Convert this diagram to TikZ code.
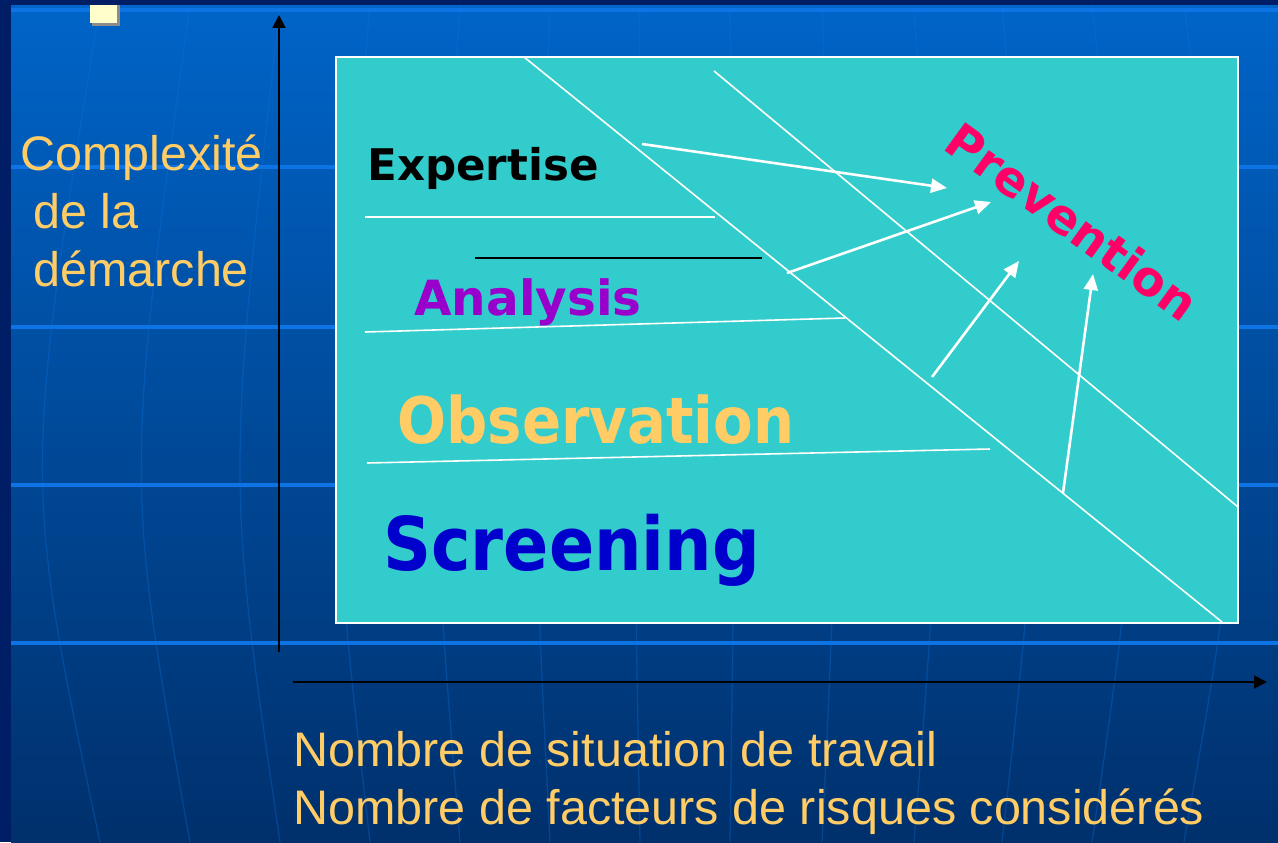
\documentclass[tikz,border=0pt]{standalone}
\usepackage{fontspec}
\setmainfont{Liberation Sans}
\newfontfamily\widebold{DejaVu Sans Bold}
\newfontfamily\narrowbold[FakeStretch=0.9]{DejaVu Sans Bold}
\usetikzlibrary{arrows.meta}
\definecolor{frame}{HTML}{001E66}
\definecolor{bgtop}{HTML}{0064C8}
\definecolor{bgbot}{HTML}{00306C}
\definecolor{gridline}{HTML}{0C74E4}
\definecolor{panel}{HTML}{33CCCC}
\definecolor{axislab}{HTML}{FFCC66}
\definecolor{analysis}{HTML}{9900CC}
\definecolor{screening}{HTML}{0000CC}
\definecolor{prevention}{HTML}{FF0066}
\definecolor{bullet}{HTML}{FFFFCC}

\begin{document}
\begin{tikzpicture}[x=0.02cm,y=-0.02cm,
    lw/.style={line width=#1*0.5669pt},
    axislabel/.style={inner sep=0pt,anchor=base west,text=axislab,
      font=\fontsize{27.6}{33}\selectfont},
    level/.style={inner sep=0pt,anchor=base west},
    axis/.style={draw=black,lw=2,-{Triangle[length=0.26cm,width=0.26cm]}},
    push/.style={draw=white,lw=2.6,-{Triangle[length=0.32cm,width=0.28cm]}},
    divider/.style={draw=white,lw=1.6}]
  \useasboundingbox (0,0) rectangle (1278,842);

  % slide background
  \fill[frame] (0,0) rectangle (1278,842);
  \shade[top color=bgtop,bottom color=bgbot] (11,5) rectangle (1278,842);
  \foreach \y in {10,167,327,485,643}
    \draw[gridline,lw=3.5] (11,\y) -- (1278,\y);
  \foreach \x in {100,190,280,370,460,550,640,730,822,914,1002,1092,1184}
    \draw[gridline,lw=1.3,opacity=.3]
      (\x,5) .. controls ({\x+0.13*(\x-690)},480) .. (\x,842);
  \fill[black!45] (92,5) rectangle (120,26);
  \fill[bullet] (90,5) rectangle (117,23);

  \path
  (336,57) coordinate(boxnw)
  (1238,623) coordinate(boxse)
  (279,652) coordinate(ybot)
  (279,15) coordinate(ytop)
  (293,682) coordinate(xleft)
  (1267,682) coordinate(xright)
  (524,57) coordinate(d1top)
  (1222,622) coordinate(d1bot)
  (714,71) coordinate(d2top)
  (1238,507) coordinate(d2bot)
  (365,217) coordinate(e1) (715,217) coordinate(e2)
  (475,258) coordinate(k1) (762,258) coordinate(k2)
  (365,332) coordinate(a1) (845,318) coordinate(a2)
  (367,463) coordinate(o1) (990,449) coordinate(o2)
  (642,144) coordinate(p1s) (947,188) coordinate(p1e)
  (787,273) coordinate(p2s) (991,202) coordinate(p2e)
  (932,377) coordinate(p3s) (1019,261) coordinate(p3e)
  (1063,493) coordinate(p4s) (1093,274) coordinate(p4e)
  ;

  \draw[axis] (ybot) -- (ytop);
  \draw[axis] (xleft) -- (xright);

  \fill[panel] (boxnw) rectangle (boxse);
  \draw[white,lw=1.6] (boxnw) rectangle (boxse);

  \draw[divider] (d1top) -- (d1bot);
  \draw[divider] (d2top) -- (d2bot);
  \draw[divider] (e1) -- (e2);
  \draw[black,lw=1.8] (k1) -- (k2);
  \draw[divider] (a1) -- (a2);
  \draw[divider] (o1) -- (o2);

  \draw[push] (p1s) -- (p1e);
  \draw[push] (p2s) -- (p2e);
  \draw[push] (p3s) -- (p3e);
  \draw[push] (p4s) -- (p4e);

  \path
  (20,170) node[axislabel](ylab1) {Complexité}
  (33,228) node[axislabel](ylab2) {de la}
  (33,286) node[axislabel](ylab3) {démarche}
  (293,766) node[axislabel](xlab1) {Nombre de situation de travail}
  (293,824) node[axislabel](xlab2) {Nombre de facteurs de risques considérés}
  (367,180) node[level,text=black,font=\widebold\fontsize{24.8}{29}\selectfont](expertise) {Expertise}
  (414,315) node[level,text=analysis,font=\widebold\fontsize{27.6}{33}\selectfont](analysis) {Analysis}
  (397,443) node[level,text=axislab,font=\narrowbold\fontsize{36.5}{43}\selectfont](observation) {Observation}
  (383,570) node[level,text=screening,font=\narrowbold\fontsize{42.2}{50}\selectfont](screening) {Screening}
  (1062,236) node[inner sep=0pt,anchor=base,rotate=-36,text=prevention,
    font=\widebold\fontsize{27.4}{32}\selectfont](prevention) {Prevention}
  ;
\end{tikzpicture}
\end{document}
